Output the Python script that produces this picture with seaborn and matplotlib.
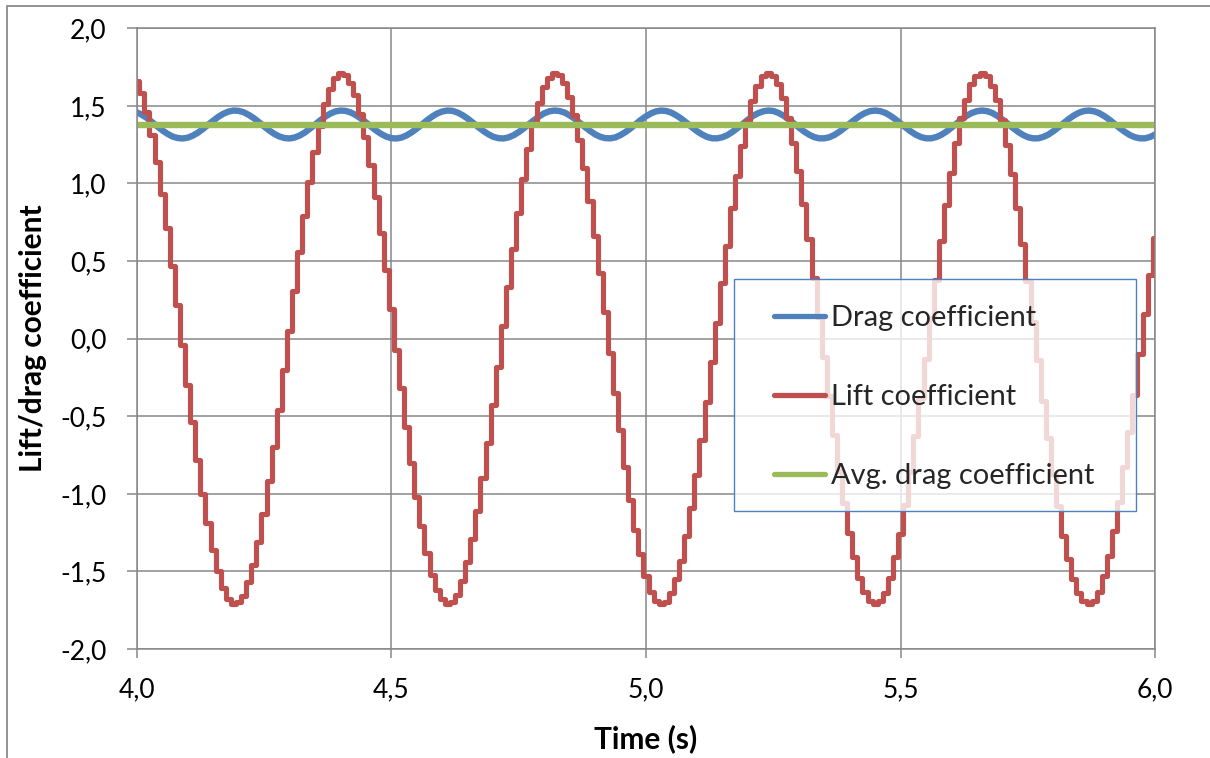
import numpy as np
import pandas as pd
import matplotlib
matplotlib.use("Agg")
import matplotlib.pyplot as plt
from matplotlib.patches import Rectangle
from matplotlib.lines import Line2D
import seaborn as sns

# Sampling of the force coefficients (s)
time_start = 4.00
time_step = 0.01

# Lift coefficient, held constant over each sample interval
lift_coefficient = [
    1.66, 1.58, 1.46, 1.31, 1.14, 0.93, 0.71, 0.47, 0.22, -0.04,
    -0.30, -0.54, -0.78, -1.00, -1.19, -1.36, -1.50, -1.61, -1.68, -1.71,
    -1.70, -1.66, -1.57, -1.46, -1.31, -1.13, -0.92, -0.70, -0.46, -0.20,
    0.05, 0.31, 0.56, 0.79, 1.01, 1.20, 1.37, 1.51, 1.61, 1.68,
    1.71, 1.70, 1.65, 1.57, 1.45, 1.30, 1.12, 0.91, 0.68, 0.44,
    0.19, -0.07, -0.32, -0.57, -0.80, -1.02, -1.21, -1.38, -1.52, -1.62,
    -1.68, -1.71, -1.70, -1.65, -1.56, -1.44, -1.29, -1.11, -0.90, -0.67,
    -0.43, -0.18, 0.08, 0.33, 0.58, 0.81, 1.03, 1.22, 1.39, 1.52,
    1.62, 1.68, 1.71, 1.70, 1.65, 1.56, 1.44, 1.28, 1.10, 0.89,
    0.66, 0.42, 0.17, -0.09, -0.35, -0.59, -0.83, -1.04, -1.23, -1.39,
    -1.53, -1.63, -1.69, -1.71, -1.70, -1.64, -1.55, -1.43, -1.27, -1.09,
    -0.88, -0.65, -0.41, -0.15, 0.10, 0.36, 0.60, 0.84, 1.05, 1.24,
    1.40, 1.53, 1.63, 1.69, 1.71, 1.69, 1.64, 1.55, 1.42, 1.26,
    1.08, 0.87, 0.64, 0.39, 0.14, -0.12, -0.37, -0.62, -0.85, -1.06,
    -1.25, -1.41, -1.54, -1.63, -1.69, -1.71, -1.69, -1.64, -1.54, -1.41,
    -1.26, -1.07, -0.86, -0.63, -0.38, -0.13, 0.13, 0.38, 0.63, 0.86,
    1.07, 1.26, 1.42, 1.54, 1.64, 1.69, 1.71, 1.69, 1.63, 1.54,
    1.41, 1.25, 1.06, 0.84, 0.61, 0.37, 0.11, -0.14, -0.40, -0.64,
    -0.87, -1.08, -1.27, -1.42, -1.55, -1.64, -1.69, -1.71, -1.69, -1.63,
    -1.53, -1.40, -1.24, -1.05, -0.83, -0.60, -0.36, -0.10, 0.16, 0.41,
    0.65, 0.88,
]

# Drag coefficient at the same instants
drag_coefficient = [
    1.459, 1.443, 1.422, 1.396, 1.369, 1.343, 1.321, 1.303, 1.293, 1.290,
    1.295, 1.308, 1.327, 1.351, 1.378, 1.404, 1.429, 1.449, 1.463, 1.470,
    1.468, 1.459, 1.442, 1.421, 1.395, 1.368, 1.342, 1.320, 1.303, 1.293,
    1.290, 1.296, 1.309, 1.328, 1.353, 1.379, 1.406, 1.430, 1.450, 1.464,
    1.470, 1.468, 1.458, 1.441, 1.419, 1.394, 1.367, 1.341, 1.319, 1.302,
    1.292, 1.290, 1.296, 1.310, 1.330, 1.354, 1.380, 1.407, 1.431, 1.451,
    1.464, 1.470, 1.468, 1.457, 1.440, 1.418, 1.392, 1.365, 1.340, 1.318,
    1.301, 1.292, 1.290, 1.297, 1.311, 1.331, 1.355, 1.382, 1.408, 1.432,
    1.452, 1.465, 1.470, 1.467, 1.457, 1.439, 1.417, 1.391, 1.364, 1.339,
    1.317, 1.301, 1.292, 1.291, 1.297, 1.312, 1.332, 1.356, 1.383, 1.410,
    1.433, 1.452, 1.465, 1.470, 1.467, 1.456, 1.438, 1.416, 1.390, 1.363,
    1.337, 1.316, 1.300, 1.291, 1.291, 1.298, 1.312, 1.333, 1.358, 1.384,
    1.411, 1.435, 1.453, 1.465, 1.470, 1.467, 1.455, 1.437, 1.414, 1.388,
    1.361, 1.336, 1.315, 1.299, 1.291, 1.291, 1.298, 1.313, 1.334, 1.359,
    1.386, 1.412, 1.436, 1.454, 1.466, 1.470, 1.466, 1.455, 1.436, 1.413,
    1.387, 1.360, 1.335, 1.314, 1.299, 1.291, 1.291, 1.299, 1.314, 1.335,
    1.360, 1.387, 1.413, 1.437, 1.455, 1.466, 1.470, 1.466, 1.454, 1.435,
    1.412, 1.386, 1.359, 1.334, 1.313, 1.298, 1.291, 1.291, 1.300, 1.315,
    1.337, 1.362, 1.389, 1.415, 1.438, 1.456, 1.467, 1.470, 1.465, 1.453,
    1.434, 1.411, 1.384, 1.357, 1.333, 1.312, 1.298, 1.291, 1.291, 1.300,
    1.316, 1.338,
]

avg_drag_coefficient = 1.38

series_labels = ["Drag coefficient", "Lift coefficient", "Avg. drag coefficient"]
series_colors = ["#4F81BD", "#C0504D", "#9BBB59"]

x_ticks = [4.0, 4.5, 5.0, 5.5, 6.0]
x_tick_labels = ["4,0", "4,5", "5,0", "5,5", "6,0"]
y_ticks = [-2.0, -1.5, -1.0, -0.5, 0.0, 0.5, 1.0, 1.5, 2.0]
y_tick_labels = ["-2,0", "-1,5", "-1,0", "-0,5", "0,0", "0,5", "1,0", "1,5", "2,0"]

time = np.round(time_start + time_step * np.arange(len(lift_coefficient)), 2)
df = pd.DataFrame({
    "time": time,
    "drag": drag_coefficient,
    "lift": lift_coefficient,
    "avg": np.full(len(time), avg_drag_coefficient),
})

sns.set_theme(style="white")
plt.rcParams["font.family"] = ["Lato", "DejaVu Sans"]

W, H = 1210, 758
fig = plt.figure(figsize=(W / 100, H / 100), dpi=100)
x0, x1, y_top, y_bot = 136.7, 1155.3, 28.3, 649.0
ax = fig.add_axes([x0 / W, (H - y_bot) / H, (x1 - x0) / W, (y_bot - y_top) / H])

grey = "#878787"
sns.lineplot(data=df, x="time", y="drag", ax=ax, color=series_colors[0], lw=4.6,
             estimator=None, sort=False, zorder=2.1, solid_capstyle="round",
             solid_joinstyle="round")
sns.lineplot(data=df, x="time", y="lift", ax=ax, color=series_colors[1], lw=3.7,
             estimator=None, sort=False, drawstyle="steps-mid", zorder=2.2)
sns.lineplot(data=df, x="time", y="avg", ax=ax, color=series_colors[2], lw=4.6,
             estimator=None, sort=False, zorder=2.3)

ax.set_xlim(4.0, 6.0)
ax.set_ylim(-2.0, 2.0)
ax.set_xticks(x_ticks)
ax.set_xticklabels(x_tick_labels)
ax.set_yticks(y_ticks)
ax.set_yticklabels(y_tick_labels)
ax.grid(True, color=grey, lw=1.1)
ax.set_axisbelow(True)
for sp in ax.spines.values():
    sp.set_visible(True)
    sp.set_color(grey)
    sp.set_linewidth(1.1)
ax.tick_params(axis="y", direction="out", length=7.2, width=1.1, color=grey,
               labelsize=19, pad=14.5, left=True, labelcolor="black")
ax.tick_params(axis="x", direction="out", length=6.5, width=1.1, color=grey,
               labelsize=19, pad=14, bottom=True, labelcolor="black")

ax.set_xlabel("Time (s)", fontsize=21.5, fontweight="bold", color="black")
ax.set_ylabel("Lift/drag coefficient", fontsize=21.5, fontweight="bold", color="black")
ax.xaxis.set_label_coords(0.5, (y_bot - 724) / (y_bot - y_top))
ax.yaxis.set_label_coords((47 - x0) / (x1 - x0), 0.5)

# Legend box: translucent white panel with a thin blue border
lx0, lx1, ly_top, ly_bot = 734, 1136, 279, 511
ax.add_patch(Rectangle(((lx0 - x0) / (x1 - x0), (y_bot - ly_bot) / (y_bot - y_top)),
                       (lx1 - lx0) / (x1 - x0), (ly_bot - ly_top) / (y_bot - y_top),
                       transform=ax.transAxes, facecolor=(1, 1, 1, 0.78),
                       edgecolor="#4F81BD", lw=1.0, zorder=4, clip_on=False))
handles = [Line2D([], [], color=c, lw=3.8, solid_capstyle="round") for c in series_colors]
ax.legend(handles, series_labels, loc="center left",
          bbox_to_anchor=((774 - x0) / (x1 - x0), (y_bot - 397) / (y_bot - y_top)),
          frameon=False, fontsize=20.9, handlelength=1.75, handletextpad=0.2,
          labelspacing=1.82, borderpad=0, borderaxespad=0)

# Outer chart border
fig.add_artist(Rectangle((7 / W, -1), 5, 1 + (H - 6) / H, transform=fig.transFigure,
                         fill=False, edgecolor="#8a8a8a", lw=1.3))

fig.savefig("out.png", dpi=100, facecolor="white")
